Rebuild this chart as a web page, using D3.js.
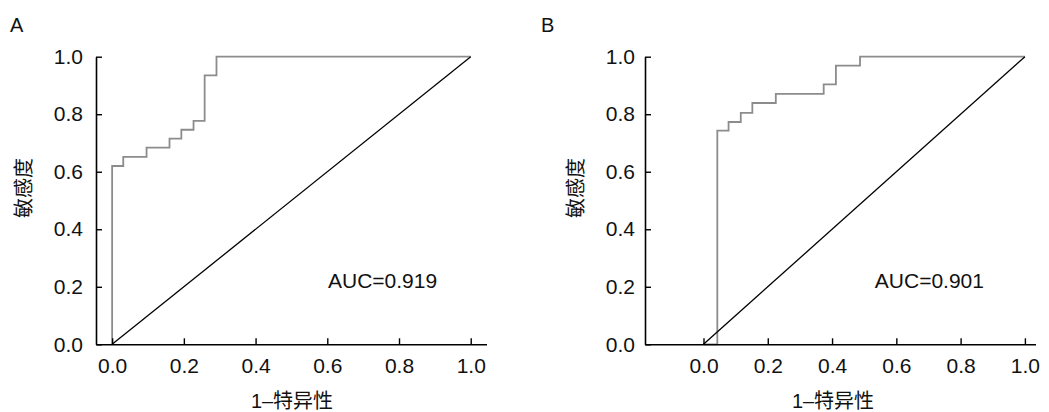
<!DOCTYPE html>
<html>
<head>
<meta charset="utf-8">
<script src="https://cdn.jsdelivr.net/npm/d3@7"></script>
<style>
  html, body { margin: 0; padding: 0; background: #fff; }
  svg text { font-family: "Liberation Sans", Arial, "Noto Sans CJK SC", sans-serif; fill: #111; }
</style>
</head>
<body>
<svg id="chart" width="1049" height="412"></svg>
<script>
// ---- data ----
const panelLabels = ["A", "B"];
const aucLabels = ["AUC=0.919", "AUC=0.901"];
const xTicks = [0, 0.2, 0.4, 0.6, 0.8, 1.0];
const yTicks = [0, 0.2, 0.4, 0.6, 0.8, 1.0];
const xTitle = "1\u2013特异性";
const yTitle = "敏感度";

// ROC points (1-specificity, sensitivity), panel A
const rocA_fpr = [0, 0, 0.031, 0.096, 0.160, 0.193, 0.227, 0.258, 0.291, 1.0];
const rocA_tpr = [0, 0.620, 0.652, 0.684, 0.715, 0.746, 0.777, 0.935, 1.0, 1.0];
// ROC points, panel B
const rocB_fpr = [0, 0.043, 0.043, 0.078, 0.116, 0.152, 0.225, 0.374, 0.412, 0.487, 1.0];
const rocB_tpr = [0, 0, 0.743, 0.773, 0.805, 0.839, 0.871, 0.904, 0.969, 1.0, 1.0];
// reference diagonal
const diagX = [0, 1];
const diagY = [0, 1];

// ---- layout ----
const svg = d3.select("#chart");
const panels = [
  { label: panelLabels[0], auc: aucLabels[0], fpr: rocA_fpr, tpr: rocA_tpr,
    xDomain: [-0.045, 1.044], xRange: [96, 486.5], yPad: 13,
    labelX: 10, yTitleX: 24, xTitleX: 292, aucX: 0.602 },
  { label: panelLabels[1], auc: aucLabels[1], fpr: rocB_fpr, tpr: rocB_tpr,
    xDomain: [-0.182, 1.033], xRange: [645, 1035.5], yPad: 10,
    labelX: 541, yTitleX: 576, xTitleX: 833, aucX: 0.533 }
];

panels.forEach(p => {
  const x = d3.scaleLinear().domain(p.xDomain).range(p.xRange);
  const y = d3.scaleLinear().domain([0, 1]).range([344.3, 56.7]);
  const g = svg.append("g");

  // ROC curve (gray step)
  const pts = p.fpr.map((v, i) => [v, p.tpr[i]]);
  g.append("path")
    .datum(pts)
    .attr("fill", "none")
    .attr("stroke", "#8c8c8c")
    .attr("stroke-width", 1.8)
    .attr("d", d3.line().x(d => x(d[0])).y(d => y(d[1])).curve(d3.curveStepAfter));

  // diagonal
  g.append("path")
    .datum(diagX.map((v, i) => [v, diagY[i]]))
    .attr("fill", "none")
    .attr("stroke", "#000")
    .attr("stroke-width", 1.3)
    .attr("d", d3.line().x(d => x(d[0])).y(d => y(d[1])));

  // axes
  const xAxis = d3.axisBottom(x).tickValues(xTicks).tickFormat(d3.format(".1f"))
    .tickSizeInner(-6).tickSizeOuter(0).tickPadding(14);
  const yAxis = d3.axisLeft(y).tickValues(yTicks).tickFormat(d3.format(".1f"))
    .tickSizeInner(-6).tickSizeOuter(0).tickPadding(p.yPad);

  const gx = g.append("g").attr("transform", "translate(0,344.3)").call(xAxis);
  const gy = g.append("g").attr("transform", `translate(${p.xRange[0]},0)`).call(yAxis);
  [gx, gy].forEach(ax => {
    ax.select(".domain").attr("stroke", "#000").attr("stroke-width", 1.6);
    ax.selectAll(".tick line").attr("stroke", "#000").attr("stroke-width", 1.4);
    ax.selectAll(".tick text").attr("font-size", 21)
      .attr("font-family", "'Liberation Sans', Arial, sans-serif").attr("fill", "#111");
  });

  // AUC annotation
  g.append("text")
    .attr("x", x(p.aucX)).attr("y", y(0.195))
    .attr("font-size", 21)
    .text(p.auc);

  // panel label
  g.append("text")
    .attr("x", p.labelX).attr("y", 32)
    .attr("font-size", 20)
    .text(p.label);

  // x title
  g.append("text")
    .attr("x", p.xTitleX).attr("y", 408)
    .attr("text-anchor", "middle")
    .attr("font-size", 20)
    .text(xTitle);

  // y title
  g.append("text")
    .attr("transform", `translate(${p.yTitleX},188) rotate(-90)`)
    .attr("text-anchor", "middle")
    .attr("dominant-baseline", "central")
    .attr("font-size", 20)
    .text(yTitle);
});
</script>
</body>
</html>
